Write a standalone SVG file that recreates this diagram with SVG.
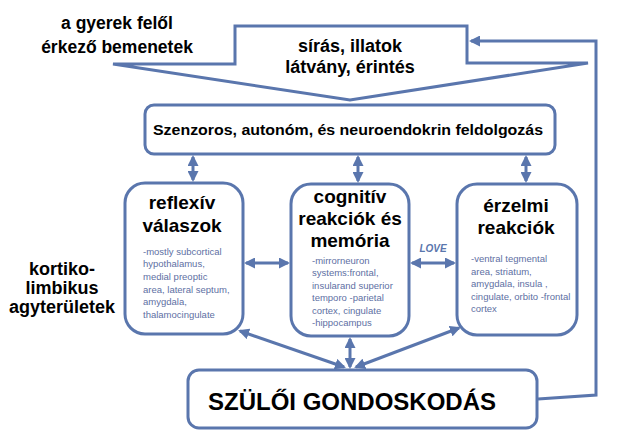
<svg xmlns="http://www.w3.org/2000/svg" width="623" height="444" viewBox="0 0 623 444">
<style>
.box{fill:#fff;stroke:#5A76AD;stroke-width:3}
.ln{fill:none;stroke:#5A76AD;stroke-width:3}
.big{font-family:"Liberation Sans",Arial,sans-serif;font-weight:bold;fill:#000;text-anchor:middle}
.sm{font-family:"Liberation Sans",Arial,sans-serif;font-size:9.5px;fill:#5E6FA3}
</style>
<defs>
<marker id="ah" markerUnits="userSpaceOnUse" markerWidth="11" markerHeight="11" refX="9" refY="5.5" orient="auto-start-reverse">
<path d="M0,0 L11,5.5 L0,11 z" fill="#5A76AD"/>
</marker>
</defs>
<rect width="623" height="444" fill="#fff"/>

<g id="input-label">
<text class="big" font-size="17.5" x="117" y="29">a gyerek felől</text>
<text class="big" font-size="17.5" x="117" y="53">érkező bemenetek</text>
</g>

<g id="input-arrow">
<path class="box" d="M235,26 H467 V63 H588 L350,100 L113,64 H235 Z" stroke-width="2.5" stroke-linejoin="miter"/>
<text class="big" font-size="18" x="350" y="52">sírás, illatok</text>
<text class="big" font-size="18" x="350" y="73">látvány, érintés</text>
</g>

<g id="processing">
<rect class="box" x="145" y="105" width="410" height="49" rx="9"/>
<text font-family="Liberation Sans,Arial,sans-serif" font-weight="bold" font-size="15" x="153" y="135" textLength="390" lengthAdjust="spacingAndGlyphs">Szenzoros, autonóm, és neuroendokrin feldolgozás</text>
</g>

<g id="cortico-label">
<text class="big" font-size="18" x="62" y="275">kortiko-</text>
<text class="big" font-size="18" x="62" y="294">limbikus</text>
<text class="big" font-size="18" x="62" y="313">agyterületek</text>
</g>

<g id="reflexive">
<rect class="box" x="125" y="183" width="118" height="151" rx="20"/>
<text class="big" font-size="19" x="182" y="209">reflexív</text>
<text class="big" font-size="19" x="182" y="232">válaszok</text>
<text class="sm" x="143" y="255">-mostly subcortical</text>
<text class="sm" x="143" y="267">hypothalamus,</text>
<text class="sm" x="143" y="280">medial preoptic</text>
<text class="sm" x="143" y="293">area, lateral septum,</text>
<text class="sm" x="143" y="305">amygdala,</text>
<text class="sm" x="143" y="318">thalamocingulate</text>
</g>

<g id="cognitive">
<rect class="box" x="291" y="184" width="118" height="152" rx="20"/>
<text class="big" font-size="19" x="350" y="203">cognitív</text>
<text class="big" font-size="19" x="350" y="225">reakciók és</text>
<text class="big" font-size="19" x="350" y="247">memória</text>
<text class="sm" x="312" y="264">-mirrorneuron</text>
<text class="sm" x="312" y="276">systems:frontal,</text>
<text class="sm" x="312" y="289">insularand superior</text>
<text class="sm" x="312" y="301">temporo -parietal</text>
<text class="sm" x="312" y="314">cortex, cingulate</text>
<text class="sm" x="312" y="326">-hippocampus</text>
</g>

<g id="emotional">
<rect class="box" x="457" y="184" width="120" height="151" rx="20"/>
<text class="big" font-size="19" x="516" y="212">érzelmi</text>
<text class="big" font-size="19" x="516" y="234">reakciók</text>
<text class="sm" x="471" y="262">-ventral  tegmental</text>
<text class="sm" x="471" y="275">area, striatum,</text>
<text class="sm" x="471" y="287">amygdala,  insula ,</text>
<text class="sm" x="471" y="300">cingulate,  orbito -frontal</text>
<text class="sm" x="471" y="312">cortex</text>
</g>

<g id="parental-care">
<rect class="box" x="188" y="370" width="349" height="58" rx="11"/>
<text class="big" font-size="24" x="352" y="410">SZÜLŐI GONDOSKODÁS</text>
</g>

<g id="connectors">
<line class="ln" x1="193" y1="157" x2="193" y2="180" marker-start="url(#ah)" marker-end="url(#ah)"/>
<line class="ln" x1="358" y1="157" x2="358" y2="181" marker-start="url(#ah)" marker-end="url(#ah)"/>
<line class="ln" x1="526" y1="157" x2="526" y2="181" marker-start="url(#ah)" marker-end="url(#ah)"/>
<line class="ln" x1="246" y1="263" x2="288" y2="263" marker-start="url(#ah)" marker-end="url(#ah)"/>
<line class="ln" x1="412" y1="263" x2="454" y2="263" marker-start="url(#ah)" marker-end="url(#ah)"/>
<text x="433" y="252" font-family="Liberation Sans,Arial,sans-serif" font-size="10" font-weight="bold" font-style="italic" fill="#5A76AD" text-anchor="middle">LOVE</text>
<line class="ln" x1="344" y1="367" x2="240" y2="331" marker-start="url(#ah)" marker-end="url(#ah)"/>
<line class="ln" x1="350" y1="339" x2="350" y2="367" marker-start="url(#ah)" marker-end="url(#ah)"/>
<line class="ln" x1="356" y1="367" x2="459" y2="328" marker-start="url(#ah)" marker-end="url(#ah)"/>
<path class="ln" stroke-width="2.5" d="M538,399 L596,395 V41 H471" marker-end="url(#ah)"/>
</g>
</svg>
